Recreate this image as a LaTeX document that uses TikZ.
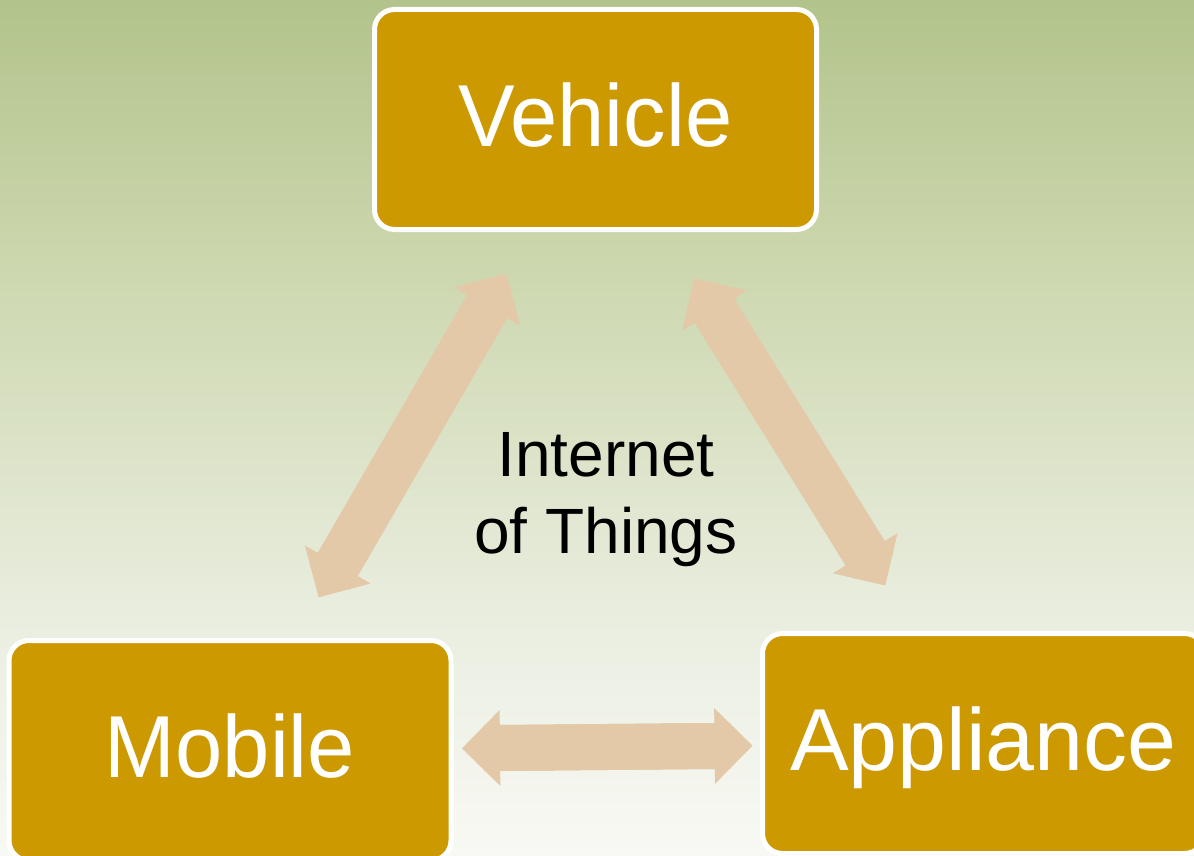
\documentclass[tikz,border=0pt]{standalone}
\usepackage{fontspec}
\setmainfont{Liberation Sans}
\usepackage{graphicx}
\usetikzlibrary{arrows.meta,calc}
\definecolor{gold}{HTML}{CC9900}
\definecolor{arr}{HTML}{E3C9A8}
\definecolor{bgA}{RGB}{178,195,139}
\definecolor{bgB}{RGB}{203,214,172}
\definecolor{bgC}{RGB}{234,238,224}
\definecolor{bgD}{RGB}{248,249,244}
\begin{document}
\begin{tikzpicture}[x=1pt,y=-1pt,
  box/.style={rectangle, rounded corners=20pt, fill=gold, draw=white, line width=5pt,
    minimum width=442pt, minimum height=220pt, inner sep=0pt, text=white,
    font=\fontsize{88}{100}\selectfont, text height=63pt, text depth=9pt},
  dbl/.style={draw=arr, line width=46pt,
    {Triangle[width=76pt,length=38pt,line width=0pt]}-{Triangle[width=76pt,length=38pt,line width=0pt]}},
  shaft/.style={draw=arr, line width=46pt, shorten <=22pt, shorten >=22pt},
  iot/.style={align=center, text=black, font=\fontsize{64}{77}\selectfont}]
\useasboundingbox (0,0) rectangle (1194,856);
\shade[top color=bgA,bottom color=bgB] (0,0) rectangle (1194,251);
\shade[top color=bgB,bottom color=bgC] (0,250) rectangle (1194,621);
\shade[top color=bgC,bottom color=bgD] (0,620) rectangle (1194,856);
\node[box] (v) at (595.5,119.5) {\scalebox{0.965}[1]{Vehicle}};
\node[box] (m) at (230,750.5) {\scalebox{0.965}[1]{Mobile}};
\node[box] (a) at (983.5,743.5) {Appliance\hspace{10pt}};
\node[iot] (t) at (606,500) {Internet\\of Things};
\coordinate (lm) at ($(m.center)!177pt!(v.center)$);
\coordinate (lv) at ($(v.center)!178pt!(m.center)$);
\coordinate (ra) at ($(a.center)!186pt!(v.center)$);
\coordinate (rv) at ($(v.center)!187pt!(a.center)$);
\coordinate (hm) at ($(m.center)!232pt!(a.center)$);
\coordinate (ha) at ($(a.center)!231pt!(m.center)$);
\draw[dbl] (lm) -- (lv);
\draw[shaft] (lm) -- (lv);
\draw[dbl] (ra) -- (rv);
\draw[shaft] (ra) -- (rv);
\draw[dbl] (hm) -- (ha);
\draw[shaft] (hm) -- (ha);
\end{tikzpicture}
\end{document}
